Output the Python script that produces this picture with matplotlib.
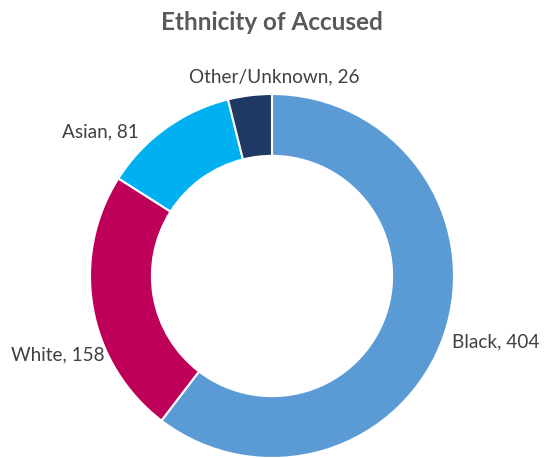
import matplotlib.pyplot as plt

labels = ["Black", "White", "Asian", "Other/Unknown"]
counts = [404, 158, 81, 26]
colors = ["#5B9BD5", "#BE0059", "#00B0F0", "#203864"]

# label anchor points in pixel space (x, y from top)
label_pos = [(496, 342), (58, 355), (100, 132), (274, 77)]

W, H = 544, 458
fig = plt.figure(figsize=(W / 100, H / 100), dpi=100)
ax = fig.add_axes([0, 0, 1, 1])

cx, cy, R = 272, H - 276, 182
ax.pie(counts, colors=colors, startangle=90, counterclock=False,
	center=(cx, cy), radius=R, frame=True,
	wedgeprops=dict(width=R * 0.34, edgecolor="white", linewidth=1.5))
ax.set_xlim(0, W)
ax.set_ylim(0, H)
ax.set_aspect("equal")
ax.axis("off")

for name, n, (x, y) in zip(labels, counts, label_pos):
	ax.text(x, H - y, f"{name}, {n}", ha="center", va="center",
		fontsize=13.7, color="#404040", family="Lato")

fig.text(0.5, 1 - 23 / H, "Ethnicity of Accused", ha="center", va="center",
	fontsize=17.5, fontweight="bold", color="#595959", family="Lato")

fig.savefig("out.png", dpi=100)
